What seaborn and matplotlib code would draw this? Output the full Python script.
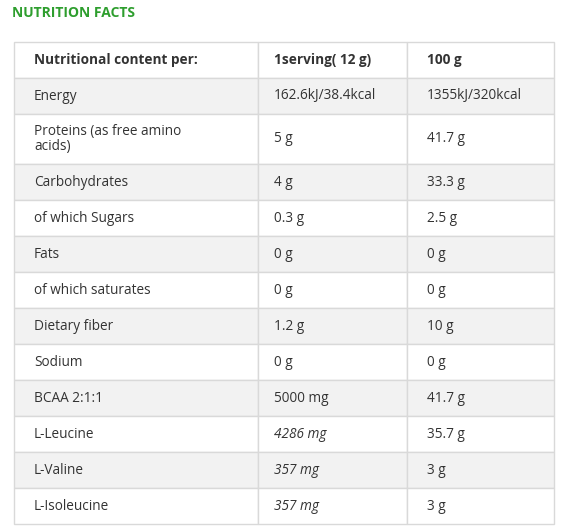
import matplotlib.pyplot as plt
import seaborn as sns
from matplotlib.patches import Rectangle

# ── Table content ───────────────────────────────────────────────────────────
TITLE = "NUTRITION FACTS"
HEADER = ["Nutritional content per:", "1serving( 12 g)", "100 g"]
NUTRIENTS = ["Energy", "Proteins (as free amino\nacids)", "Carbohydrates",
             "of which Sugars", "Fats", "of which saturates", "Dietary fiber",
             "Sodium", "BCAA 2:1:1", "L-Leucine", "L-Valine", "L-Isoleucine"]
PER_SERVING = ["162.6kJ/38.4kcal", "5 g", "4 g", "0.3 g", "0 g", "0 g",
               "1.2 g", "0 g", "5000 mg", "4286 mg", "357 mg", "357 mg"]
PER_100G = ["1355kJ/320kcal", "41.7 g", "33.3 g", "2.5 g", "0 g", "0 g",
            "10 g", "0 g", "41.7 g", "35.7 g", "3 g", "3 g"]
ITALIC_SERVING = [False] * 9 + [True, True, True]

# ── Layout (pixels) ─────────────────────────────────────────────────────────
COL_X = [14, 258, 407, 554]
PAD_X = [20, 16, 20]
ROW_H = [36, 36, 50, 36, 36, 36, 36, 36, 36, 36, 36, 36, 36]
TOP = 42
TEXT_C = "#333333"
GRID_C = "#d9d9d9"
SHADE = "#f2f2f2"

sns.set_style("white")
plt.rcParams["font.family"] = ["Open Sans", "DejaVu Sans"]

fig = plt.figure(figsize=(5.63, 5.30), dpi=100)
ax = fig.add_axes([0, 0, 1, 1])
ax.set_xlim(0, 563)
ax.set_ylim(530, 0)
ax.axis("off")

ax.text(12, 13, TITLE, color="#2e9e2e", fontsize=10, fontweight="bold",
        ha="left", va="center")

rows = [HEADER] + [list(r) for r in zip(NUTRIENTS, PER_SERVING, PER_100G)]
y = TOP
for i, (row, h) in enumerate(zip(rows, ROW_H)):
    fill = SHADE if i % 2 == 1 else "white"
    for j in range(3):
        ax.add_patch(Rectangle((COL_X[j], y), COL_X[j + 1] - COL_X[j], h,
                               facecolor=fill, edgecolor=GRID_C, lw=1))
        style = "italic" if (i > 0 and j == 1 and ITALIC_SERVING[i - 1]) else "normal"
        weight = "bold" if i == 0 else "normal"
        ax.text(COL_X[j] + PAD_X[j], y + h / 2, row[j], color=TEXT_C,
                fontsize=9.8, fontstyle=style, fontweight=weight,
                ha="left", va="center", linespacing=0.95)
    y += h

fig.savefig("out.png", dpi=100, facecolor="white")
